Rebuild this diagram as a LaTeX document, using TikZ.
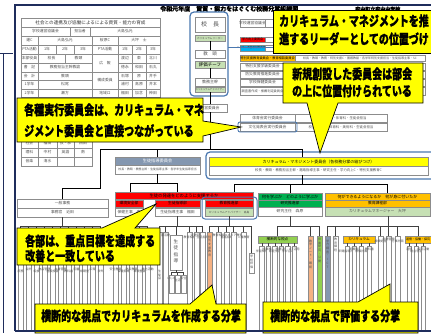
\documentclass[tikz,border=0pt]{standalone}
\usepackage{fontspec}
\usepackage{graphicx}
\usetikzlibrary{calc}
\newfontfamily\jp{Noto Sans CJK JP}[BoldFeatures={FakeBold=1.2}]
\definecolor{navy}{HTML}{1F2D5C}
\definecolor{cbl}{HTML}{4A78B0}
\definecolor{cellgray}{HTML}{8C8C8C}
\definecolor{txtgray}{HTML}{505050}
\definecolor{cyel}{HTML}{FFFF00}
\definecolor{cred}{HTML}{FF0000}
\definecolor{corange}{HTML}{FFC000}
\definecolor{cgreen}{HTML}{00B050}
\definecolor{clgreen}{HTML}{C6E0B4}
\definecolor{clime}{HTML}{92D050}
\definecolor{csalmon}{HTML}{F4B183}
\definecolor{cbgray}{HTML}{8497B0}
\definecolor{ccyan}{HTML}{00B0F0}
\tikzset{
  cellbase/.style={draw=cellgray,line width=0.45pt,fill=white,inner sep=0pt,outer sep=0pt,text=txtgray,font=\jp\fontsize{3.8}{4.2}\selectfont},
  conn/.style={draw=black,line width=0.7pt},
  sub/.style={draw=black!75,line width=0.45pt},
  colbox/.style={draw=cellgray,line width=0.45pt,fill=white,inner sep=0pt,outer sep=0pt,minimum width=5pt},
  coltext/.style={inner sep=0pt,text=txtgray,font=\jp\fontsize{3}{3.7}\selectfont},
  callout/.style={draw=black,line width=0.7pt,fill=cyel},
  calltext/.style={anchor=base west,inner sep=0pt,font=\jp\bfseries\fontsize{10}{10}\selectfont},
  grp/.style={draw=cbl,line width=1.2pt,rounded corners=4pt},
}
\makeatletter
\newcommand\vt[1]{\vbox{\@tfor\vt@c:=#1\do{\hbox to 0pt{\hss\vt@c\hss}}}}
\makeatother
\newcount\vcn
\newcommand\bx[7][]{\node[cellbase,anchor=north west,minimum width={(#5-#3)*1pt},minimum height={(#6-#4)*1pt},#1] (#2) at (#3,#4) {\makebox[0pt]{#7}};}
\newcommand\vc[6][]{\global\advance\vcn by 1
  \node[colbox,anchor=north west,minimum height={(#5-#4)*1pt},#1] (#2) at (#3,#4) {};
  \node[coltext,anchor=north] (#2t) at ($(#2.north)+(0,{1.6+1.8*mod(\the\vcn,2)})$) {\vt{#6}};}
% column whose text starts lower (below a callout)
\newcommand\vcl[6][]{\global\advance\vcn by 1
  \node[colbox,anchor=north west,minimum height={(#5-#4)*1pt},#1] (#2) at (#3,#4) {};
  \node[coltext,anchor=north] (#2t) at ($(#2.north |- 0,268)+(0,{1.8*mod(\the\vcn,2)})$) {\vt{#6}};}
\newcommand\ct[1]{\scalebox{1}[1.35]{#1}}
\begin{document}
\begin{tikzpicture}[x=1pt,y=-1pt]
\useasboundingbox (0,0) rectangle (431,333);
\fill[white] (0,0) rectangle (431,333);

% title
\node[font=\jp\bfseries\fontsize{6}{6}\selectfont,anchor=base west,inner sep=0pt] (title) at (160,11) {令和元年度　資質・能力をはぐくむ校務分掌組織図};
\node[font=\jp\bfseries\fontsize{5}{5}\selectfont,anchor=base west,inner sep=0pt] (school) at (355,11) {府中町立府中中学校};

% left table
\bx[font=\jp\fontsize{4.6}{5}\selectfont,text=black!80]{t0}{21}{18}{160}{27}{社会との連携及び協働によるによる資質・能力の育成}
\bx{t1a}{21}{27}{70}{36}{学校運営協議会}
\bx{t1b}{70}{27}{90}{36}{担当者}
\bx{t1c}{90}{27}{160}{36}{大島弘光}
\bx{t2a}{21}{36}{38}{45}{運C}
\bx{t2b}{38}{36}{92}{45}{大島弘光}
\bx{t2c}{92}{36}{118}{45}{桜原C}
\bx{t2d}{118}{36}{160}{45}{大坪　士}
\bx{t3a}{21}{45}{38}{54}{PTA活動}
\bx{t3b}{38}{45}{56}{54}{1年}
\bx{t3c}{56}{45}{74}{54}{2年}
\bx{t3d}{74}{45}{92}{54}{3年}
\bx{t3e}{92}{45}{118}{54}{PTA活動}
\bx{t3f}{118}{45}{132}{54}{1年}
\bx{t3g}{132}{45}{146}{54}{2年}
\bx{t3h}{146}{45}{160}{54}{3年}
\bx{t4a}{21}{54}{38}{63}{本部役員}
\bx{t4b}{38}{54}{65}{63}{校長}
\bx{t4c}{65}{54}{92}{63}{教頭}
\bx{t4d}{92}{54}{118}{72}{広　報}
\bx{t4e}{118}{54}{132}{63}{渡辺}
\bx{t4f}{132}{54}{146}{63}{東}
\bx{t4g}{146}{54}{160}{63}{北川}
\bx{t5a}{21}{63}{38}{72}{書　記}
\bx{t5b}{38}{63}{92}{72}{教務担当主幹教諭}
\bx{t5e}{118}{63}{132}{72}{徳永}
\bx{t5f}{132}{63}{146}{72}{和田}
\bx{t5g}{146}{63}{160}{72}{石丸}
\bx{t6a}{21}{72}{38}{80}{会　計}
\bx{t6b}{38}{72}{92}{80}{教頭}
\bx{t6d}{92}{72}{118}{89}{構成委員}
\bx{t6e}{118}{72}{132}{80}{石塚}
\bx{t6f}{132}{72}{146}{80}{原}
\bx{t6g}{146}{72}{160}{80}{井手}
\bx{t7a}{21}{80}{38}{89}{1学年}
\bx{t7b}{38}{80}{92}{89}{松尾}
\bx{t7e}{118}{80}{132}{89}{浦村}
\bx{t7f}{132}{80}{146}{89}{高原}
\bx{t7g}{146}{80}{160}{89}{井本}
\bx{t8a}{21}{89}{38}{97}{2学年}
\bx{t8b}{38}{89}{92}{97}{瀬方}
\bx{t8d}{92}{89}{118}{97}{地域ロ}
\bx{t8e}{118}{89}{132}{97}{福田}
\bx{t8f}{132}{89}{146}{97}{加念}
\bx{t8g}{146}{89}{160}{97}{神田}
\foreach \r/\ya/\yb in {9/97/107,10/107/118,11/118/129,12/129/139}{
  \bx{t\r a}{21}{\ya}{38}{\yb}{}
  \bx{t\r b}{38}{\ya}{57}{\yb}{}
  \bx{t\r c}{57}{\ya}{74}{\yb}{}
  \bx{t\r d}{74}{\ya}{92}{\yb}{}
}
\bx{t13a}{21}{139}{38}{148}{社会}
\bx{t13b}{38}{139}{57}{148}{福田}
\bx{t13c}{57}{139}{74}{148}{技・家}
\bx{t13d}{74}{139}{92}{148}{西田}
\bx{t14a}{21}{148}{38}{157}{理科}
\bx{t14b}{38}{148}{57}{157}{中村}
\bx{t14c}{57}{148}{74}{157}{英語}
\bx{t14d}{74}{148}{92}{157}{南}
\bx{t15a}{21}{157}{38}{166}{音楽}
\bx{t15b}{38}{157}{57}{166}{清水}
\bx{t15c}{57}{157}{74}{166}{}
\bx{t15d}{74}{157}{92}{166}{}

% principal group
\draw[grp] (190,12) rectangle (228,96);
\bx[font=\jp\fontsize{6}{6}\selectfont]{kocho}{195}{17}{225}{32}{校　長}
\bx[fill=clgreen,font=\jp\fontsize{2.6}{3}\selectfont]{cl1}{195}{35}{225}{41}{カリキュラムリーダー}
\bx[font=\jp\fontsize{4.5}{5}\selectfont]{kyoto}{195}{50}{225}{58}{教　頭}
\bx[fill=clgreen,font=\jp\fontsize{4.5}{5}\selectfont,text=black]{cl2}{195}{61}{225}{68}{評価チーフ}
\bx[font=\jp\fontsize{4}{5}\selectfont]{kyomu}{195}{78}{225}{86}{教務主幹}
\bx[fill=clgreen,font=\jp\fontsize{2.4}{3}\selectfont]{cl3}{195}{87}{225}{92}{カリキュラムアドバイザー}
\bx{unei}{193}{104}{227}{112}{運営委員会}
\draw[conn] (cl1.south) -- (kyoto.north);
\draw[conn] (cl2.south) -- (kyomu.north);
\draw[conn] (cl3.south) -- (unei.north);
\coordinate (busL) at (100,149);
\coordinate (busR) at (302,149);
\draw[conn] (unei.south) -- (unei.south |- busL);

% committees
\bx{cm1}{240}{19}{265}{27}{学校運営協議会}
\bx{cm1r}{265}{19}{425}{27}{}
\bx[fill=cred,text=black,font=\jp\fontsize{3}{3.5}\selectfont]{cm2}{240}{37}{265}{42}{学力向上委員会}
\bx{cm2r}{265}{37}{425}{42}{}
\bx[fill=ccyan,text=black!80,font=\jp\fontsize{2.6}{3}\selectfont]{cm3}{240}{45}{265}{51}{いじめ・不登校対策委員会}
\bx{cm3r}{265}{45}{425}{51}{}
\bx[fill=corange,text=black,font=\jp\fontsize{3.2}{3.5}\selectfont]{cm4}{240}{55}{295}{61}{特別支援教育委員会・教育相談委員会}
\bx[font=\jp\fontsize{3}{3.5}\selectfont]{cm4r}{295}{55}{425}{61}{校長・教頭・教務・特別支援C・養護教諭・各学年特別支援担当・生徒指導主事・SC}
\bx{cm5}{240}{63}{285}{70}{特別支援学級委員会}
\bx{cm5r}{285}{63}{425}{70}{}
\bx{cm6}{240}{71}{285}{78}{防災教育推進委員会}
\bx{cm6r}{285}{71}{425}{78}{}
\bx{cm7}{240}{79}{285}{86}{学校保健委員会}
\bx{cm7r}{285}{79}{425}{86}{}
\bx[font=\jp\fontsize{3.2}{3.5}\selectfont]{cm8}{240}{87}{285}{95}{調査書作成・推薦判定委員会}
\bx{cm8r}{285}{87}{425}{95}{}
\bx{cm9}{240}{114}{295}{122}{体育会実行委員会}
\bx[font=\jp\fontsize{3.4}{4}\selectfont]{cm9r}{295}{114}{387}{122}{校長・教頭・体育科・生徒会担当}
\bx{cm10}{240}{123}{295}{131}{文化発表会実行委員会}
\bx[font=\jp\fontsize{3.4}{4}\selectfont]{cm10r}{295}{123}{387}{131}{校長・教頭・体育科・美術科・生徒会担当}
\draw[grp,line width=0.9pt,rounded corners=2pt] (238,122) rectangle (297,132);

% second level
\bx[fill=cbgray,text=white,font=\jp\fontsize{4.2}{5}\selectfont]{seito}{115}{157}{200}{165}{生徒指導委員会}
\bx[font=\jp\fontsize{2.9}{3.5}\selectfont]{seitor}{115}{165}{200}{174}{校長・教頭・教務主幹・生徒指導主事・各学年生徒指導担当}
\bx[fill=cyel,text=black,font=\jp\fontsize{4}{5}\selectfont]{cmc}{209}{157}{428}{166}{カリキュラム・マネジメント委員会（各校務分掌の結びつけ）}
\bx[font=\jp\fontsize{3.4}{4}\selectfont]{cmcr}{209}{166}{428}{175}{校長・教頭・教務担当主幹・進路指導主事・研究主任・学力向上C・特別支援教育C}
\draw[grp] (206,152) rectangle (436,179);
\draw[conn] (busL) -- (busR);
\draw[conn] (seito.north |- busL) -- (seito.north);
\draw[conn] (busR) -- (busR |- cmc.north);

% third level
\bx{ippan}{17}{199}{108}{208}{一般事務}
\bx{jimu}{17}{208}{108}{217}{事務官　近田}
\coordinate (j1) at (100,188);
\draw[conn] (busL) -- (j1) -| (ippan.north);

\bx[fill=cred,text=black,font=\jp\fontsize{4.3}{5}\selectfont]{red}{115}{192}{253}{199}{生徒の発達をどのように支援するか}
\bx[fill=cred,text=black]{kankyo}{115}{200}{143}{207}{環境安全部}
\bx{kankyo2}{115}{208}{143}{216}{保健主事　森}
\bx[fill=cred,text=black]{shido}{155}{200}{200}{207}{生徒指導部}
\bx{shido2}{155}{208}{200}{216}{生徒指導主事　福田}
\bx[fill=cred,text=black]{suishin}{205}{200}{253}{207}{教育推進部}
\bx[fill=clgreen,font=\jp\fontsize{2.7}{3}\selectfont]{suishin2}{205}{208}{253}{216}{カリキュラムアドバイザー　高島}
\draw[grp,line width=1pt,rounded corners=3pt] (202,197) rectangle (257,219);

\bx[fill=cgreen,text=black,font=\jp\fontsize{4}{5}\selectfont]{green}{258}{193}{322}{200}{何を学ぶか　どのように学ぶか}
\bx[fill=cgreen,text=black]{kenkyu}{258}{200}{322}{207}{研究推進部}
\bx{kenkyu2}{258}{207}{322}{216}{研究主任　森原}
\bx[fill=corange,text=black,font=\jp\fontsize{4}{5}\selectfont]{orange}{325}{193}{430}{200}{何ができるようになるか　何が身に付いたか}
\bx[fill=corange,text=black]{katei}{325}{200}{430}{207}{教育課程部}
\bx[fill=clgreen]{katei2}{325}{207}{430}{216}{カリキュラムマネージャー　大坪}

\coordinate (b2L) at (130,183);
\coordinate (b2R) at (177,183);
\draw[conn] (seitor.south) -- (seitor.south |- b2L);
\draw[conn] (b2L) -- (b2R);
\draw[conn] (b2L) -- (b2L |- red.north);
\draw[conn] (b2R) -- (b2R |- red.north);
\coordinate (b3L) at (234,184);
\coordinate (b3R) at (387,184);
\draw[conn] (cmcr.south -| busR) -- (busR |- b3L);
\draw[conn] (b3L) -- (b3R);
\draw[conn] (b3L) -- (b3L |- red.north);
\draw[conn] (green.north) -- (green.north |- b3L);
\draw[conn] (b3R) -- (b3R |- orange.north);

% bottom columns
\coordinate (busY) at (0,226);
% group A
\foreach \i/\x/\t in {1/18/庶務,2/26/会計,3/34/給食,4/42/物品管理,5/50/施設設備,6/58/文書管理,7/66/教科書,8/74/図書,9/82/視聴覚,10/90/広報,11/98/渉外}{
  \vcl{ga\i}{\x}{232}{330}{\t}
  \draw[sub] (ga\i.north) -- (ga\i.north |- busY);}
\draw[sub] (ga1.north |- busY) -- (ga11.north |- busY);
\draw[sub] (jimu.south) -- (jimu.south |- busY);
% group B
\foreach \i/\x/\t in {1/113/安全教育,2/121/保健指導,3/129/防災教育,4/137/環境整備,5/145/美化活動}{
  \vcl{gb\i}{\x}{232}{330}{\t}
  \draw[sub] (gb\i.north) -- (gb\i.north |- busY);}
\draw[sub] (gb1.north |- busY) -- (gb5.north |- busY);
\draw[sub] (kankyo2.south) -- (kankyo2.south |- busY);
% group C
\vcl{gc1}{157}{232}{330}{生徒会}
\foreach \i/\x/\t in {2/163/部活動,3/187/教育相談,4/194/交通安全,5/200/生活指導}{
  \vc{gc\i}{\x}{232}{330}{\t}}
\foreach \i in {1,...,5}{\draw[sub] (gc\i.north) -- (gc\i.north |- busY);}
\node[colbox,minimum width=12pt,minimum height=35pt,anchor=north west] (sbox) at (170,235) {};
\node[coltext,font=\jp\fontsize{4.6}{6.5}\selectfont,anchor=north] (sboxt) at ($(sbox.north)+(0,4)$) {\vt{生徒指導}};
\draw[sub] (sbox.north) -- (sbox.north |- busY);
\draw[sub] (gc1.north |- busY) -- (gc5.north |- busY);
\draw[sub] (shido2.south) -- (shido2.south |- busY);
\coordinate (sbY) at (0,272);
\foreach \i/\x/\t in {1/169/いじめ,2/175/生活,3/181/安全}{
  \vc{gs\i}{\x}{275}{293}{\t}
  \draw[sub] (gs\i.north) -- (gs\i.north |- sbY);}
\draw[sub] (gs1.north |- sbY) -- (gs3.north |- sbY);
\draw[sub] (sbox.south) -- (sbox.south |- sbY);
% group D
\vc[fill=csalmon]{gd1}{207}{232}{330}{特別支援教育}
\foreach \i/\x/\t in {2/216/教育相談,3/224/進路指導,4/231/キャリア教育,5/241/人権教育}{
  \vc{gd\i}{\x}{232}{330}{\t}}
\vc{gd6}{249}{253}{273}{学校評価}
\foreach \i in {1,...,6}{\draw[sub] (gd\i.north) -- (gd\i.north |- busY);}
\draw[sub] (gd1.north |- busY) -- (gd6.north |- busY);
\draw[sub] (suishin2.south) -- (suishin2.south |- busY);
% group E
\bx[fill=clime,text=black,font=\jp\fontsize{3.6}{4}\selectfont]{eh}{258}{236}{297}{243}{横断的な視点}
\foreach \i/\x/\t in {1/259.5/学習規律,2/266/授業改善,3/272.5/家庭学習,4/279/言語活動,5/285.5/学び合い,6/292/ICT活用}{
  \vc[minimum width=4.5pt]{ge\i}{\x}{246}{330}{\t}
  \draw[sub] (ge\i.north) -- (ge\i.north |- eh.south);}
\vc[fill=csalmon]{ge7}{308}{236}{330}{数学ノート・確認}
\vc[fill=clime]{ge8}{317}{236}{330}{授業研究・公開}
\draw[sub] (eh.north) -- (eh.north |- busY);
\draw[sub] (ge7.north) -- (ge7.north |- busY);
\draw[sub] (ge8.north) -- (ge8.north |- busY);
\draw[sub] (eh.north |- busY) -- (ge8.north |- busY);
\draw[sub] (kenkyu2.south) -- (kenkyu2.south |- busY);
% group F
\vc[fill=cbgray]{gf1}{325}{236}{330}{学力調査・ICT}
\vc{gf2}{333}{236}{330}{教育課程}
\bx[fill=corange,text=black,font=\jp\fontsize{3.6}{4}\selectfont]{fh}{343}{236}{375}{243}{カリキュラム}
\foreach \i/\x/\t in {3/345/年間指導計画,4/352/時間割,5/359/評価計画,6/367/教科書}{
  \vc[minimum width=4.5pt]{gf\i}{\x}{246}{330}{\t}
  \draw[sub] (gf\i.north) -- (gf\i.north |- fh.south);}
\foreach \i/\x/\t in {7/378/成績処理,8/386/学籍管理,9/395/行事計画}{
  \vc{gf\i}{\x}{236}{330}{\t}
  \draw[sub] (gf\i.north) -- (gf\i.north |- busY);}
\bx[fill=corange,text=black,font=\jp\fontsize{3}{4}\selectfont]{fh2}{405}{236}{431}{243}{道徳・協働・探究}
\foreach \i/\x/\t in {10/407/道徳,11/414/総合学習,12/421/探究活動}{
  \vc[minimum width=4.5pt]{gf\i}{\x}{246}{330}{\t}
  \draw[sub] (gf\i.north) -- (gf\i.north |- fh2.south);}
\draw[sub] (gf1.north) -- (gf1.north |- busY);
\draw[sub] (gf2.north) -- (gf2.north |- busY);
\draw[sub] (fh.north) -- (fh.north |- busY);
\draw[sub] (fh2.north) -- (fh2.north |- busY);
\draw[sub] (gf1.north |- busY) -- (fh2.north |- busY);
\coordinate (fbus) at (388,226);
\draw[sub] (fbus |- katei2.south) -- (fbus);

% callouts
\draw[cbl,line width=0.8pt] (228,47) -- (273,47);
\draw[callout] (273,10) rectangle (433,53);
\node[calltext] (k1a) at (279,26) {\ct{カリキュラム・マネジメントを推}};
\node[calltext] (k1b) at (279,44) {\ct{進するリーダーとしての位置づけ}};

\draw[callout] (283,63) -- (423,63) -- (423,103) -- (338,103) -- (320,153) -- (307,103) -- (283,103) -- cycle;
\node[calltext] (k2a) at (292,79) {\ct{新規創設した委員会は部会}};
\node[calltext] (k2b) at (292,96) {\ct{の上に位置付けられている}};

\draw[callout] (17,98) -- (203,98) -- (203,121) -- (241,127) -- (203,136) -- (203,142) -- (17,142) -- cycle;
\node[calltext] (k3a) at (24,115) {\ct{各種実行委員会は、カリキュラム・マネ}};
\node[calltext] (k3b) at (24,136) {\ct{ジメント委員会と直接つながっている}};

\draw[callout] (17,228) -- (102,228) -- (156,204) -- (135,228) -- (160,228) -- (160,265) -- (17,265) -- cycle;
\node[calltext] (k4a) at (25,246) {\ct{各部は、重点目標を達成する}};
\node[calltext] (k4b) at (25,261) {\ct{改善と一致している}};

\draw[callout] (35,304) -- (190,304) -- (212,285) -- (216,304) -- (246,304) -- (246,333) -- (35,333) -- cycle;
\node[calltext] (k5) at (41,321) {\ct{横断的な視点でカリキュラムを作成する分掌}};

\draw[callout] (263,302) -- (358,302) -- (390,284) -- (390,302) -- (418,302) -- (418,333) -- (263,333) -- cycle;
\node[calltext] (k6) at (270,321) {\ct{横断的な視点で評価する分掌}};

% frame
\draw[navy,line width=1.6pt] (15,331) -- (15,5) -- (433,5);
\draw[navy,line width=1.6pt] (15,331) -- (433,331);
\draw[navy,line width=0.7pt] (0,53) -- (13,53);
\draw[navy,line width=0.7pt] (3,53) -- (3,333);
\end{tikzpicture}
\end{document}
